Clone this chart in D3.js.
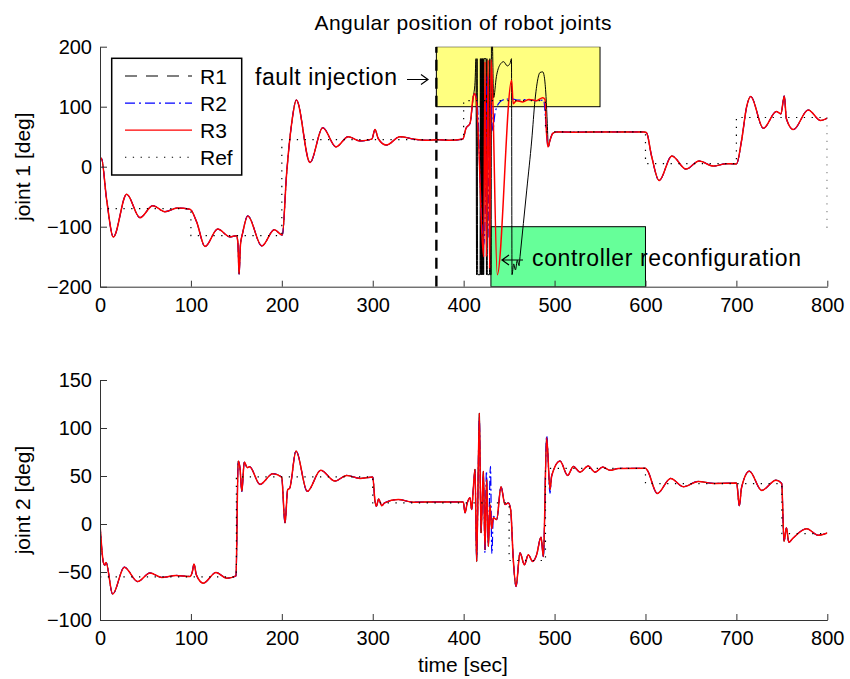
<!DOCTYPE html>
<html>
<head>
<meta charset="utf-8">
<script src="https://cdn.jsdelivr.net/npm/d3@7"></script>
<style>
  body { margin: 0; background: #fff; }
  svg { display: block; font-family: "Liberation Sans", Arial, Helvetica, sans-serif; }
  .axis path, .axis line { stroke: #333; stroke-width: 1; }
  .axis text { font-size: 20px; fill: #000; font-family: "Liberation Sans", Arial, Helvetica, sans-serif; }
</style>
</head>
<body>
<svg id="chart" width="850" height="679"></svg>
<script>
// ---- data (time [sec], angle [deg]) ----
const xTicks = [0, 100, 200, 300, 400, 500, 600, 700, 800]
const joint1Ticks = [-200, -100, 0, 100, 200]
const joint2Ticks = [-100, -50, 0, 50, 100, 150]

// joint 1: all three runs agree before the fault and after recovery
const joint1Before = [[0,8],[1.5,14],[7.3,-55],[14.7,-117],[29.3,-46],[44,-85],[58,-65],[71.5,-75],[85,-69],[99,-71],
  [106.3,-92],[115.5,-133],[129.5,-104],[143,-117],[150,-115],[151.6,-125],[153,-179],[154.5,-130],[157,-110],
  [162.5,-82],[178,-132],[191.7,-105],[200.5,-114],[205.3,-11],[210.8,72],[216,111],[231,7],[245,65],[259.6,33],
  [273,50],[286,43],[299,46],[302.5,62],[306,47],[315,36],[330,50],[346.5,45.6],[360,44],[371,45],[385,44],
  [399,46],[402.6,64],[407,72]]
const joint1After = [[498,55.6],[502,58],[520,57.5],[560,58],[598,58],[601,57],[606.8,17],[615,-23],[629,18],
  [644.6,-4],[659,9.5],[674.7,1],[689,5],[700,4.5],[705.8,44.5],[711.3,100],[715.7,117],[729.7,64],[744,92],
  [749,88],[752.7,118],[755,80],[762.7,62],[779,94.5],[792.7,77],[800,81]]
const joint1R1Fault = [[410.6,117],[412.5,140],[413.6,180],[414.2,-180],[414.8,180],[415.4,-180],[418,-180],
  [418.4,180],[418.8,-180],[419.2,180],[419.6,-180],[420,180],[420.4,-180],[420.8,180],[421.2,-180],[421.6,180],
  [422,-180],[422.4,180],[424.6,180],[425.1,-180],[425.6,180],[426.1,-180],[428.4,-180],[428.8,180],[429.4,-180],
  [430.2,-180],[430.6,215],[431.4,215],[433,115],[436,150],[440,170],[444,175],[448,168],[451,172],[452.6,180],
  [453.2,-180],[455,-162],[457,-172],[459,-156],[461,-165],[462,-150],[469.4,-39],[474.9,44.5],[478.5,111],
  [481.4,144.5],[484,157],[487,158],[488.7,150],[490.6,117],[492,72],[493.2,33],[495,44]]
const joint1R2Fault = [[410.6,117],[412,122],[414,115],[416,80],[418,-20],[420,-90],[422,-130],[424,-60],
  [426,150],[428,-120],[430,110],[432,60],[434.5,89],[440,108],[445,112],[453,113],[460,111],[470,112],
  [480,110],[488,111],[491,60],[492.8,33],[495,44]]
const joint1R3Fault = [[410.6,117],[412,122],[414,110],[417,20],[420,-110],[422,-150],[423.5,175],[425,-150],
  [427,178],[428.5,-170],[430.2,178],[431.5,140],[437,-180],[452.8,144],[454.5,105],[458,110],[465,108],
  [472,112],[480,110],[487,115],[489.5,112],[491,60],[492.8,33],[495,44]]
const joint1Ref = [[0,-70],[100,-70],[100,-115],[200,-115],[200,45],[400,45],[400,110],[490,110],[490,58],
  [600,58],[600,5],[700,5],[700,82],[800,82],[800,-110]]

// joint 2
const joint2Before = [[0,0],[3.7,-40],[5.3,-43],[6.6,-40],[13.9,-73],[26.8,-45],[41.4,-60],[55,-51],[67.8,-55.7],
  [83.6,-53.6],[99,-54.7],[101.5,-50],[103.4,-41.7],[106,-53],[113.7,-61.6],[127.6,-50.5],[139.4,-56.4],
  [149.6,-54],[152,65.6],[154,58],[156,34],[158.7,64.5],[162,58.7],[164.5,59.7],[176,41.2],[190,52.4],
  [199.8,48.9],[203.5,1],[206.5,36],[208.5,37],[215.6,76],[228,34],[242.8,55.9],[258.5,44.7],[271.3,50.6],
  [286,47.5],[300,48.9],[302.5,23.7],[304,18.5],[306.5,26],[310,19],[313,22],[328,25.5],[344.7,22.7],
  [370,23],[399.6,23]]
const joint2After = [[496.8,50],[506,65.6],[514.4,50.6],[520.7,60],[528,54],[537,60.4],[544.5,54],[553,59.3],
  [561,55.9],[570,57.8],[600,58],[602,56],[613,31.8],[627.7,47.5],[641.7,38.8],[658,44.4],[674.7,42.3],
  [700.3,42.6],[703.2,19],[705.7,38],[714.3,55],[727.8,35],[743.6,45.7],[749.8,42.3],[752.4,-18],[755,-4],
  [757.7,-19],[762,-15],[777.3,-5],[790,-11.7],[800,-9.3]]
const joint2R2Fault = [[401.5,11.6],[404,22],[407,27.3],[408.8,15],[410.5,35],[412.5,55],[414.3,-35],[417.3,110],
  [419.1,-5],[421.7,50],[423.5,-30],[425,55],[427,-20],[429.5,60],[431,-31],[432.7,8],[436.3,4.6],[441.1,38.8],
  [445.5,20.3],[449.2,22],[451.7,15],[454.6,-37],[457.6,-65],[462,-30],[466.8,-42.5],[471.1,-32],[475.9,-39],
  [480.3,-32],[485.1,-13.5],[487.7,-34],[491.3,92],[495,32]]
const joint2R3Fault = [[401.5,11.6],[404,22],[407,27.3],[408.8,15],[410.5,35],[412.5,57],[414.3,-39],[417.3,115.5],
  [419.1,-9.3],[421.7,55],[423.5,-26.8],[425.3,46.4],[427.2,-23.3],[429,20],[430.8,-5],[432.7,6.4],[436.3,4.6],
  [441.1,38.8],[445.5,20.3],[449.2,22],[451.7,15],[454.6,-37],[457.6,-65],[462,-30],[466.8,-42.5],[471.1,-32],
  [475.9,-39],[480.3,-32],[485.1,-13.5],[487.7,-34],[491.3,90],[495,36]]
const joint2Ref = [[0,-55],[150,-55],[150,49],[300,49],[300,22],[450,22],[450,-38],[490,-38],[490,58],
  [600,58],[600,42],[750,42],[750,-10],[800,-10]]

// annotations
const faultTime = 370
const faultBox = { t: [370, 550], v: [100, 200] }
const reconfBox = { t: [430, 600], v: [-200, -100] }

const runNames = ["R1", "R2", "R3", "Ref"]

// ---- drawing ----
const svg = d3.select("#chart")

const x = d3.scaleLinear().domain([0, 800]).range([100, 827.3])
const y1 = d3.scaleLinear().domain([-200, 200]).range([286.7, 46.7])
const y2 = d3.scaleLinear().domain([-100, 150]).range([620, 380])

const styles = {
  R1: { stroke: "#000", width: 1, dash: null, legendDash: "12,9" },
  R2: { stroke: "#0000ff", width: 1.2, dash: "9,3,2,3", legendDash: "10,4,2,4" },
  R3: { stroke: "#ff0000", width: 1.5, dash: null, legendDash: null },
  Ref: { stroke: "#000", width: 1.2, dash: "1.3,6.5", legendDash: "1.3,6.5" }
}

function drawPanel(id, y, ticks, label, series, extras) {
  const g = svg.append("g")

  g.append("clipPath").attr("id", "clip-" + id)
    .append("rect")
    .attr("x", x.range()[0]).attr("y", y.range()[1])
    .attr("width", x.range()[1] - x.range()[0])
    .attr("height", y.range()[0] - y.range()[1])

  const plot = g.append("g").attr("clip-path", "url(#clip-" + id + ")")

  if (extras) extras(plot)

  const smooth = d3.line().x(d => x(d[0])).y(d => y(d[1])).curve(d3.curveMonotoneX)
  const steps = d3.line().x(d => x(d[0])).y(d => y(d[1]))

  series.forEach(s => {
    const st = styles[s.name]
    plot.append("path")
      .attr("d", (s.name == "Ref" ? steps : smooth)(s.data))
      .attr("fill", "none")
      .attr("stroke", st.stroke)
      .attr("stroke-width", st.width)
      .attr("stroke-dasharray", st.dash)
      .attr("stroke-linejoin", "round")
  })

  g.append("g").attr("class", "axis")
    .attr("transform", "translate(0," + y.range()[0] + ")")
    .call(d3.axisBottom(x).tickValues(xTicks).tickSize(-6).tickSizeOuter(0).tickPadding(11).tickFormat(d3.format("d")))

  g.append("g").attr("class", "axis")
    .attr("transform", "translate(" + x.range()[0] + ",0)")
    .call(d3.axisLeft(y).tickValues(ticks).tickSize(-7).tickSizeOuter(0).tickPadding(8).tickFormat(d3.format("d")))

  g.append("text")
    .attr("transform", "translate(30," + ((y.range()[0] + y.range()[1]) / 2) + ") rotate(-90)")
    .attr("text-anchor", "middle")
    .attr("font-size", 21)
    .text(label)

  return g
}

// thin text-style arrow, dir = 1 points right, -1 points left
function arrow(g, x0, x1, yy, dir) {
  const tip = dir > 0 ? x1 : x0
  g.append("path")
    .attr("d", "M" + x0 + "," + yy + "H" + x1 +
      "M" + (tip - dir * 7) + "," + (yy - 5) + "L" + tip + "," + yy + "L" + (tip - dir * 7) + "," + (yy + 5))
    .attr("fill", "none").attr("stroke", "#000").attr("stroke-width", 1.2)
}

// joint 1
const topPanel = drawPanel("j1", y1, joint1Ticks, "joint 1 [deg]", [
  { name: "R1", data: joint1Before.concat(joint1R1Fault, joint1After) },
  { name: "R2", data: joint1Before.concat(joint1R2Fault, joint1After) },
  { name: "R3", data: joint1Before.concat(joint1R3Fault, joint1After) },
  { name: "Ref", data: joint1Ref }
], plot => {
  plot.append("rect")
    .attr("x", x(faultBox.t[0])).attr("y", y1(faultBox.v[1]))
    .attr("width", x(faultBox.t[1]) - x(faultBox.t[0]))
    .attr("height", y1(faultBox.v[0]) - y1(faultBox.v[1]))
    .attr("fill", "#ffff80").attr("stroke", "#000").attr("stroke-width", 1)
  plot.append("rect")
    .attr("x", x(reconfBox.t[0])).attr("y", y1(reconfBox.v[1]))
    .attr("width", x(reconfBox.t[1]) - x(reconfBox.t[0]))
    .attr("height", y1(reconfBox.v[0]) - y1(reconfBox.v[1]))
    .attr("fill", "#66ff99").attr("stroke", "#000").attr("stroke-width", 1)
  plot.append("line")
    .attr("x1", x(faultTime)).attr("x2", x(faultTime))
    .attr("y1", y1(-200)).attr("y2", y1(200))
    .attr("stroke", "#000").attr("stroke-width", 2.4).attr("stroke-dasharray", "11,7")
})

// joint 2 (R1 lies under R3 here)
drawPanel("j2", y2, joint2Ticks, "joint 2 [deg]", [
  { name: "R1", data: joint2Before.concat(joint2R3Fault, joint2After) },
  { name: "R2", data: joint2Before.concat(joint2R2Fault, joint2After) },
  { name: "R3", data: joint2Before.concat(joint2R3Fault, joint2After) },
  { name: "Ref", data: joint2Ref }
])

// annotation texts
topPanel.append("text")
  .attr("x", 255).attr("y", 85)
  .attr("font-size", 23).attr("textLength", 142).attr("lengthAdjust", "spacing")
  .text("fault injection")
arrow(topPanel, 407, 428, 79.5, 1)

arrow(topPanel, 502, 523, 260, -1)
topPanel.append("text")
  .attr("x", 532).attr("y", 266)
  .attr("font-size", 23).attr("textLength", 269).attr("lengthAdjust", "spacing")
  .text("controller reconfiguration")

// legend
const legend = topPanel.append("g")
legend.append("rect")
  .attr("x", 111.7).attr("y", 58.3).attr("width", 130).attr("height", 116.7)
  .attr("fill", "#fff").attr("stroke", "#000").attr("stroke-width", 1.5)

runNames.forEach((name, i) => {
  const ly = 76 + i * 27.1
  const st = styles[name]
  legend.append("line")
    .attr("x1", 125).attr("x2", 192).attr("y1", ly).attr("y2", ly)
    .attr("stroke", st.stroke).attr("stroke-width", name == "R3" ? 1.3 : 1.1)
    .attr("stroke-dasharray", st.legendDash)
  legend.append("text")
    .attr("x", 200).attr("y", ly + 7.5)
    .attr("font-size", 21)
    .text(name)
})

// title and x label
svg.append("text")
  .attr("x", 463).attr("y", 30)
  .attr("text-anchor", "middle")
  .attr("font-size", 21).attr("textLength", 297).attr("lengthAdjust", "spacing")
  .text("Angular position of robot joints")

svg.append("text")
  .attr("x", 463).attr("y", 672)
  .attr("text-anchor", "middle")
  .attr("font-size", 21)
  .text("time [sec]")
</script>
</body>
</html>
